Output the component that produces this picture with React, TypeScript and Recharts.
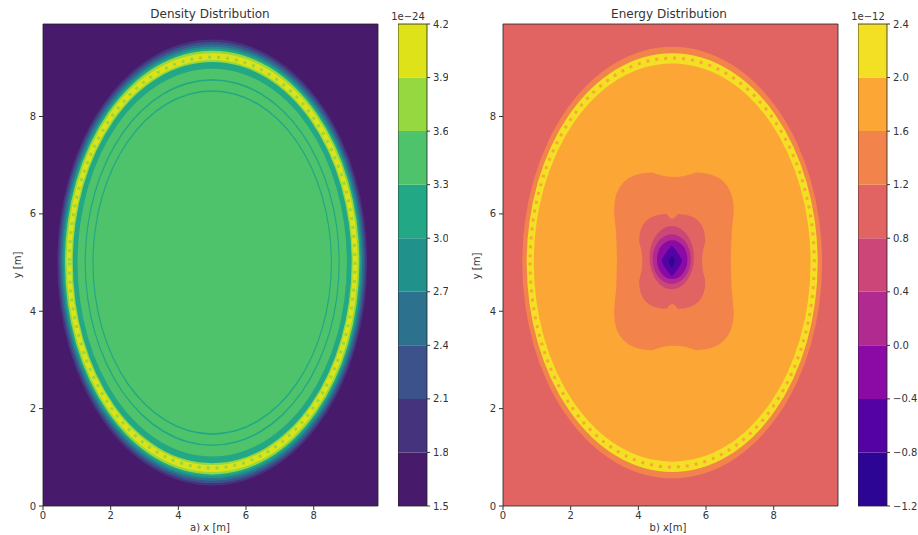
import React from 'react';
import { ComposedChart, XAxis, YAxis, ReferenceArea } from 'recharts';

const FONT = '"DejaVu Sans", sans-serif';
const INK = '#333333';

const axisTicks = [0, 2, 4, 6, 8];
const domainMax = 9.9;
const centreX = 5.0;
const centreY = 5.0;

// density field, colour levels in units of 1e-24
const densityLevels = [1.5, 1.8, 2.1, 2.4, 2.7, 3.0, 3.3, 3.6, 3.9, 4.2];
const densityColors = ['#481a6c', '#46337e', '#3b528b', '#2c728e', '#21918c', '#22a884', '#4ec36b', '#95d840', '#dde318'];
// rings of the density field, outer to inner: radius [m] and colour level
const densityRingRadius = [4.58, 4.53, 4.48, 4.43, 4.39, 4.35, 4.3, 4.16, 4.12, 3.98, 3.77, 3.735, 3.54, 3.505];
const densityRingLevel = [1, 2, 3, 4, 5, 7, 8, 7, 5, 6, 5, 6, 5, 6];
const densitySpeckleRadius = [4.22];
const densitySpeckleLevel = [7];

// energy field, colour levels in units of 1e-12
const energyLevels = [-1.2, -0.8, -0.4, 0.0, 0.4, 0.8, 1.2, 1.6, 2.0, 2.4];
const energyColors = ['#2d0594', '#5402a3', '#8b0aa5', '#b12a90', '#cc4778', '#e16462', '#f2844b', '#fca636', '#f3e024'];
const energyRingRadius = [4.43, 4.3, 4.09];
const energyRingLevel = [6, 8, 7];
const energySpeckleRadius = [4.2];
const energySpeckleLevel = [7];
// the well around the centre of the energy field
const wellX1 = [3.28, 4.02, 4.33, 4.42, 4.55, 4.68, 4.9];
const wellX2 = [6.82, 5.98, 5.64, 5.55, 5.45, 5.3, 5.08];
const wellY1 = [3.2, 4.05, 4.45, 4.56, 4.66, 4.72, 4.9];
const wellY2 = [6.85, 6.0, 5.75, 5.58, 5.46, 5.35, 5.14];
const wellLevel = [6, 5, 4, 3, 2, 1, 0];
const wellShape = ['pinch', 'waist', 'round', 'round', 'round', 'diamond', 'diamond'];

const fmt = (v: number) => (v < 0 ? '\u2212' + Math.abs(v).toFixed(1) : v.toFixed(1));

const ellipsePath = (p: any) => {
  const cx = p.x + p.width / 2;
  const cy = p.y + p.height / 2;
  const rx = p.width / 2;
  const ry = p.height / 2;
  return `M${cx - rx},${cy} A${rx},${ry} 0 1 0 ${cx + rx},${cy} A${rx},${ry} 0 1 0 ${cx - rx},${cy} Z`;
};

const RingShape = (p: any) => <path d={ellipsePath(p)} fill={p.fill} />;
const SpeckleShape = (p: any) => (
  <path d={ellipsePath(p)} fill="none" stroke={p.stroke} strokeWidth={p.strokeWidth} strokeDasharray={p.strokeDasharray} />
);

const roundedPinch = (p: any, rf: number, pinch: number) => {
  const { x, y, width: w, height: h, fill } = p;
  const r = Math.min(w, h) * rf;
  const dx = w * pinch;
  const dy = h * pinch;
  const d = [
    `M${x + r},${y}`,
    `Q${x + w / 2},${y + dy} ${x + w - r},${y}`,
    `Q${x + w},${y} ${x + w},${y + r}`,
    `Q${x + w - dx},${y + h / 2} ${x + w},${y + h - r}`,
    `Q${x + w},${y + h} ${x + w - r},${y + h}`,
    `Q${x + w / 2},${y + h - dy} ${x + r},${y + h}`,
    `Q${x},${y + h} ${x},${y + h - r}`,
    `Q${x + dx},${y + h / 2} ${x},${y + r}`,
    `Q${x},${y} ${x + r},${y}`,
    'Z',
  ].join(' ');
  return <path d={d} fill={fill} />;
};

const PinchShape = (p: any) => roundedPinch(p, 0.32, 0.05);
const WaistShape = (p: any) => roundedPinch(p, 0.42, 0.1);

const DiamondShape = (p: any) => {
  const { x, y, width: w, height: h, fill } = p;
  const cx = x + w / 2;
  const cy = y + h / 2;
  const d = `M${cx},${y} Q${x + w * 0.8},${y + h * 0.2} ${x + w},${cy} Q${x + w * 0.8},${y + h * 0.8} ${cx},${y + h} Q${x + w * 0.2},${y + h * 0.8} ${x},${cy} Q${x + w * 0.2},${y + h * 0.2} ${cx},${y} Z`;
  return <path d={d} fill={fill} />;
};

const shapes: Record<string, any> = { pinch: PinchShape, waist: WaistShape, round: RingShape, diamond: DiamondShape };

const tickStyle = { fontSize: 10, fill: INK, fontFamily: FONT };

const Txt = ({ x, y, size = 10, rotate = 0, children }: any) => (
  <div
    style={{
      position: 'absolute',
      left: x,
      top: y,
      transform: `translate(-50%, -50%) rotate(${rotate}deg)`,
      fontFamily: FONT,
      fontSize: size,
      color: INK,
      whiteSpace: 'nowrap',
      lineHeight: 1,
    }}
  >
    {children}
  </div>
);

function FieldPanel({ left, background, children }: any) {
  return (
    <div style={{ position: 'absolute', left, top: 0 }}>
      <ComposedChart width={390} height={535} margin={{ top: 24, right: 12, bottom: 0, left: 0 }}>
        <XAxis
          type="number"
          dataKey="x"
          domain={[0, domainMax]}
          ticks={axisTicks}
          interval={0}
          height={29}
          allowDataOverflow
          axisLine={false}
          tickSize={4}
          tickMargin={2}
          tickLine={{ stroke: INK }}
          tick={tickStyle}
        />
        <YAxis
          type="number"
          dataKey="y"
          domain={[0, domainMax]}
          ticks={axisTicks}
          interval={0}
          width={43}
          allowDataOverflow
          axisLine={false}
          tickSize={4}
          tickMargin={3}
          tickLine={{ stroke: INK }}
          tick={tickStyle}
        />
        <ReferenceArea x1={0} x2={domainMax} y1={0} y2={domainMax} fill={background} fillOpacity={1} stroke="none" />
        {children}
        <ReferenceArea x1={0} x2={domainMax} y1={0} y2={domainMax} fill="none" stroke="#222" strokeWidth={0.8} />
      </ComposedChart>
    </div>
  );
}

function ColorBar({ left, width, levels, colors }: any) {
  return (
    <div style={{ position: 'absolute', left, top: 0 }}>
      <ComposedChart width={width} height={535} margin={{ top: 24, right: 0, bottom: 29, left: 0 }}>
        <XAxis type="number" dataKey="x" domain={[0, 1]} allowDataOverflow hide />
        <YAxis
          type="number"
          dataKey="v"
          orientation="right"
          domain={[levels[0], levels[levels.length - 1]]}
          ticks={levels}
          interval={0}
          width={width - 29}
          allowDataOverflow
          axisLine={false}
          tickSize={3}
          tickMargin={3}
          tickLine={{ stroke: INK }}
          tick={tickStyle}
          tickFormatter={fmt}
        />
        {colors.map((c: string, i: number) => (
          <ReferenceArea key={i} x1={0} x2={1} y1={levels[i]} y2={levels[i + 1]} fill={c} fillOpacity={1} stroke="none" />
        ))}
        <ReferenceArea x1={0} x2={1} y1={levels[0]} y2={levels[levels.length - 1]} fill="none" stroke="#222" strokeWidth={0.8} />
      </ComposedChart>
    </div>
  );
}

const rings = (radius: number[], level: number[], colors: string[], tag: string) =>
  radius.map((r, i) => (
    <ReferenceArea
      key={tag + i}
      x1={centreX - r}
      x2={centreX + r}
      y1={centreY - r}
      y2={centreY + r}
      fill={colors[level[i]]}
      fillOpacity={1}
      shape={RingShape}
    />
  ));

const speckles = (radius: number[], level: number[], colors: string[], tag: string) =>
  radius.map((r, i) => (
    <ReferenceArea
      key={tag + i}
      x1={centreX - r}
      x2={centreX + r}
      y1={centreY - r}
      y2={centreY + r}
      fill="none"
      stroke={colors[level[i]]}
      strokeWidth={3}
      strokeDasharray="3 6"
      shape={SpeckleShape}
    />
  ));

export default function App() {
  return (
    <div style={{ position: 'absolute', left: 0, top: 0, width: 918, height: 535, background: '#fff', overflow: 'hidden' }}>
      <FieldPanel left={0} background={densityColors[0]}>
        {rings(densityRingRadius, densityRingLevel, densityColors, 'd')}
        {speckles(densitySpeckleRadius, densitySpeckleLevel, densityColors, 'ds')}
      </FieldPanel>
      <ColorBar left={398} width={50} levels={densityLevels} colors={densityColors} />

      <FieldPanel left={460} background={energyColors[5]}>
        {rings(energyRingRadius, energyRingLevel, energyColors, 'e')}
        {speckles(energySpeckleRadius, energySpeckleLevel, energyColors, 'es')}
        {wellLevel.map((lv, i) => (
          <ReferenceArea
            key={'w' + i}
            x1={wellX1[i]}
            x2={wellX2[i]}
            y1={wellY1[i]}
            y2={wellY2[i]}
            fill={energyColors[lv]}
            fillOpacity={1}
            shape={shapes[wellShape[i]]}
          />
        ))}
      </FieldPanel>
      <ColorBar left={858} width={60} levels={energyLevels} colors={energyColors} />

      <Txt x={210} y={14} size={12}>Density Distribution</Txt>
      <Txt x={669} y={14} size={12}>Energy Distribution</Txt>
      <Txt x={210} y={528}>a) x [m]</Txt>
      <Txt x={668} y={528}>b) x[m]</Txt>
      <Txt x={18} y={265} rotate={-90}>y [m]</Txt>
      <Txt x={477} y={266} rotate={-90}>y [m]</Txt>
      <Txt x={408} y={17}>1e{'\u2212'}24</Txt>
      <Txt x={868} y={17}>1e{'\u2212'}12</Txt>
    </div>
  );
}
